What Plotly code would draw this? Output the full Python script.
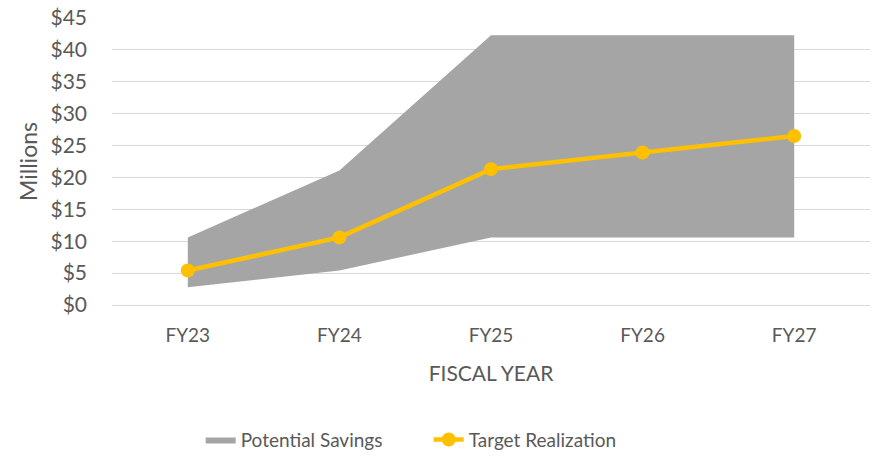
import plotly.graph_objects as go

years = ["FY23", "FY24", "FY25", "FY26", "FY27"]
savings_low = [2.8, 5.4, 10.6, 10.6, 10.6]
savings_high = [10.6, 21.1, 42.3, 42.3, 42.3]
target = [5.4, 10.6, 21.3, 23.9, 26.5]
y_ticks = [0, 5, 10, 15, 20, 25, 30, 35, 40, 45]
y_tick_labels = ["$0", "$5", "$10", "$15", "$20", "$25", "$30", "$35", "$40", "$45"]

FONT = "Lato"
TXT = "#595959"

fig = go.Figure()
fig.add_trace(go.Scatter(x=years, y=savings_low, mode="lines",
                         line=dict(width=0, color="#a5a5a5"),
                         showlegend=False, hoverinfo="skip"))
fig.add_trace(go.Scatter(x=years, y=savings_high, mode="lines", fill="tonexty",
                         fillcolor="#a5a5a5", line=dict(width=0, color="#a5a5a5"),
                         name="Potential Savings"))
fig.add_trace(go.Scatter(x=years, y=target, mode="lines+markers",
                         line=dict(color="#ffc000", width=4.5),
                         marker=dict(size=14, color="#ffc000"),
                         name="Target Realization"))

fig.update_layout(
    width=873, height=461,
    margin=dict(l=112, r=3, t=18, b=151),
    paper_bgcolor="white", plot_bgcolor="white",
    font=dict(family=FONT, size=19, color=TXT),
    legend=dict(orientation="h", x=0.117, xanchor="left", y=-0.469, yanchor="middle",
                font=dict(size=19, color=TXT), traceorder="normal",
                entrywidth=183, entrywidthmode="pixels"),
)
fig.update_xaxes(type="category", range=[-0.5, 4.5], showgrid=False,
                 showline=False, zeroline=False, ticks="", automargin=False,
                 ticklabelstandoff=17, tickfont=dict(size=19),
                 title=dict(text="FISCAL YEAR", font=dict(size=21, color=TXT), standoff=21))
fig.update_yaxes(range=[0, 45], tickmode="array", tickvals=y_ticks, ticktext=y_tick_labels,
                 showgrid=True, automargin=False, ticklabeloverflow="allow",
                 gridcolor="#d9d9d9", gridwidth=1.3, zeroline=True, zerolinecolor="#d9d9d9",
                 zerolinewidth=1.3, showline=False, ticks="", ticklabelstandoff=24,
                 tickfont=dict(size=21),
                 title=dict(text="Millions", font=dict(size=23, color=TXT), standoff=6))

fig.write_html("out.html", config={"displayModeBar": False},
               post_script="document.body.style.margin='0';document.body.style.overflow='hidden';")
